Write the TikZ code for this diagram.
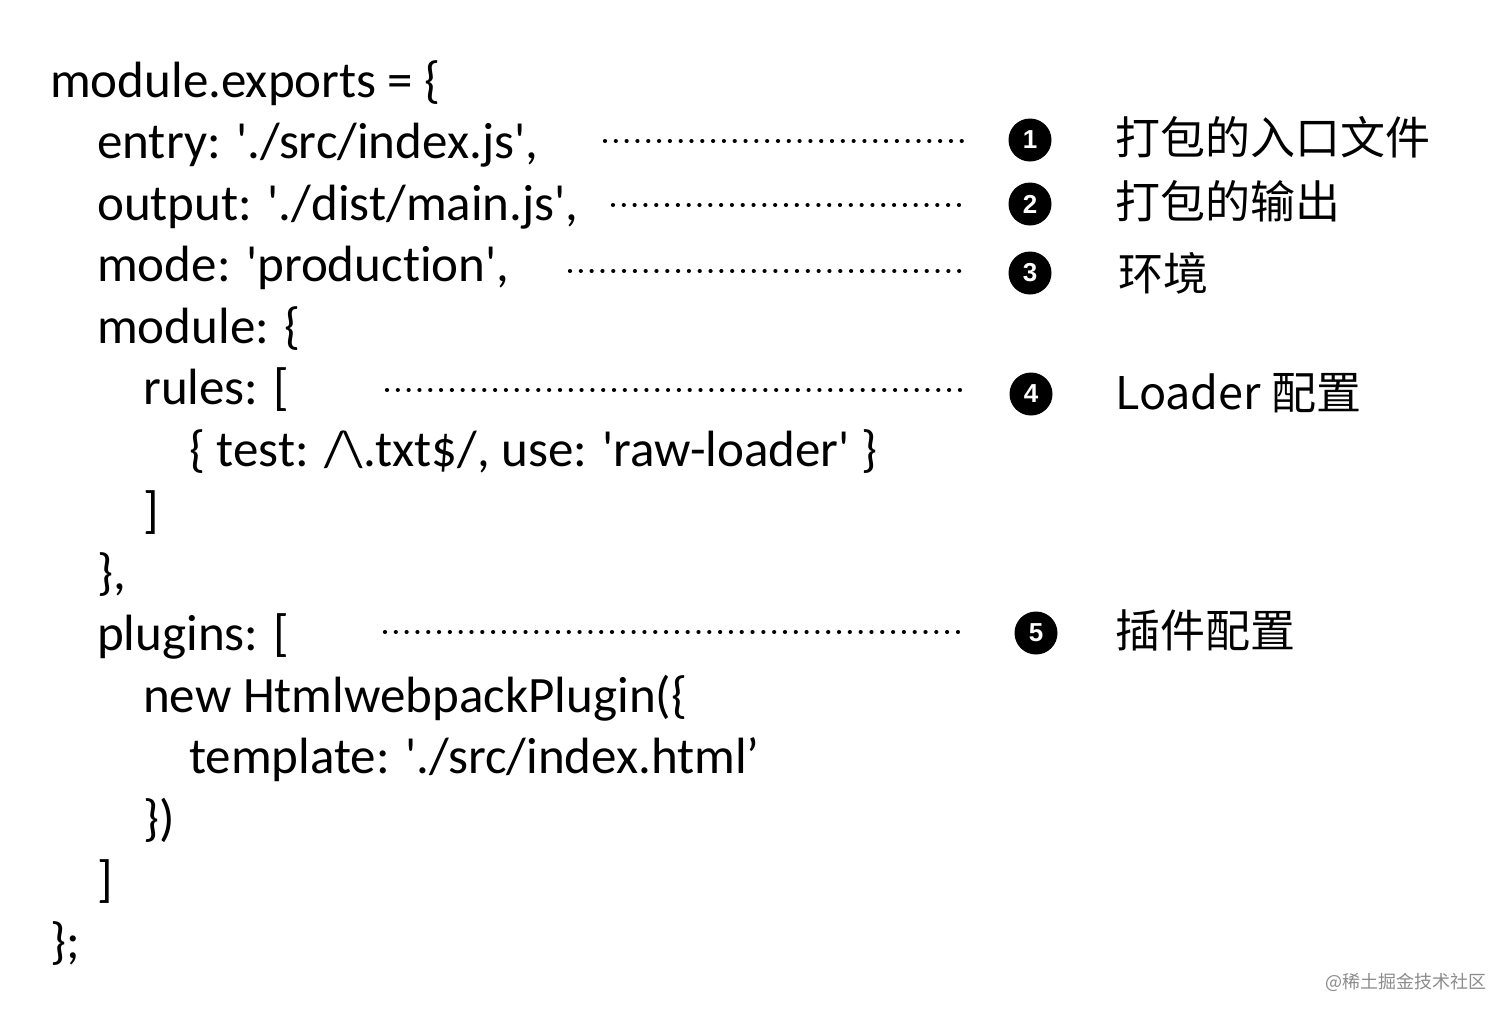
\documentclass[tikz,border=0pt]{standalone}
\usepackage{fontspec}
\newfontfamily\codefont{Carlito}[Ligatures={TeXOff,CommonOff}]
\newfontfamily\cjk{Noto Sans CJK SC}
\newfontfamily\numfont{Liberation Sans}
\begin{document}
\begin{tikzpicture}[x=1pt,y=-1pt,
  codeline/.style={anchor=base west,inner sep=0pt,font=\codefont\fontsize{51}{51}\selectfont},
  cjklabel/.style={anchor=west,inner sep=0pt,font=\cjk\fontsize{45}{45}\selectfont},
  numdot/.style={inner sep=0pt,text=white,font=\numfont\bfseries\fontsize{26}{26}\selectfont},
  dotfill/.style={fill=black},
  dotline/.style={line width=4.2pt,line cap=round,dash pattern=on 0.01pt off 10.8pt}]
\useasboundingbox (0,0) rectangle (1512,1018);
\fill[white] (0,0) rectangle (1512,1018);
% code lines
\node[codeline] (l0) at (50,97) {module.exports = \{};
\node[codeline] (l1) at (97,158.5) {entry: './src/index.js',};
\node[codeline] (l2) at (97,220) {output: './dist/main.js',};
\node[codeline] (l3) at (97,281.5) {mode: 'production',};
\node[codeline] (l4) at (97,343) {module: \{};
\node[codeline] (l5) at (143,404.5) {rules: [};
\node[codeline] (l6) at (189,466) {\{ test: /\textbackslash.txt\$/, use: 'raw-loader' \}};
\node[codeline] (l7) at (143,527.5) {]};
\node[codeline] (l8) at (97,589) {\},};
\node[codeline] (l9) at (97,650.5) {plugins: [};
\node[codeline] (l10) at (143,712) {new HtmlwebpackPlugin(\{};
\node[codeline] (l11) at (189,773.5) {template: './src/index.html’};
\node[codeline] (l12) at (143,835) {\})};
\node[codeline] (l13) at (97,896.5) {]};
\node[codeline] (l14) at (50,958) {\};};
% numbered markers
\fill[dotfill] (1030,140) circle (21.5);
\fill[dotfill] (1030,204) circle (21.5);
\fill[dotfill] (1030,273) circle (21.5);
\fill[dotfill] (1031,394) circle (21.5);
\fill[dotfill] (1036,633) circle (21.5);
\node[numdot] (n1) at (1030,140) {1};
\node[numdot] (n2) at (1030,204) {2};
\node[numdot] (n3) at (1030,273) {3};
\node[numdot] (n4) at (1031,394) {4};
\node[numdot] (n5) at (1036,633) {5};
% labels
\node[cjklabel] (t1) at (1115,137) {打包的入口文件};
\node[cjklabel] (t2) at (1115,201) {打包的输出};
\node[cjklabel] (t3) at (1118,273) {环境};
\node[cjklabel] (t4) at (1115,393) {Loader 配置};
\node[cjklabel] (t5) at (1115,630) {插件配置};
% dotted leaders
\coordinate (d1a) at (605,141); \coordinate (d1b) at (962,141);
\coordinate (d2a) at (613,205); \coordinate (d2b) at (962,205);
\coordinate (d3a) at (570,271); \coordinate (d3b) at (962,271);
\coordinate (d4a) at (387,390); \coordinate (d4b) at (962,390);
\coordinate (d5a) at (385,632); \coordinate (d5b) at (959,632);
\draw[dotline] (d1a) -- (d1b);
\draw[dotline] (d2a) -- (d2b);
\draw[dotline] (d3a) -- (d3b);
\draw[dotline] (d4a) -- (d4b);
\draw[dotline] (d5a) -- (d5b);
% watermark
\node[anchor=east,inner sep=0pt,text=black!45,font=\cjk\fontsize{18}{18}\selectfont] (wm) at (1487,982) {@稀土掘金技术社区};
\end{tikzpicture}
\end{document}
